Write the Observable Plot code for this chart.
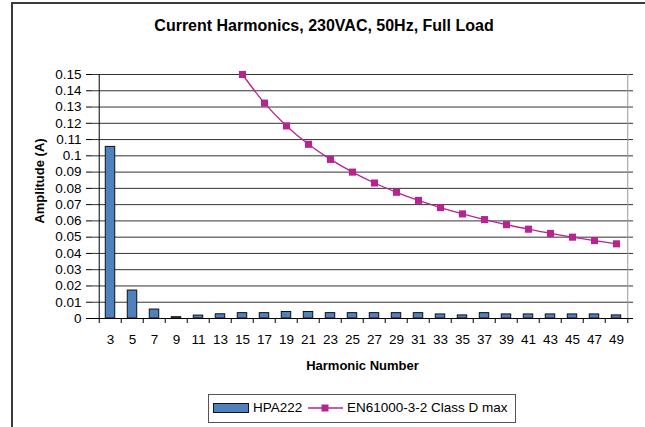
<!DOCTYPE html>
<html><head><meta charset="utf-8">
<script src="https://cdn.jsdelivr.net/npm/d3@7"></script>
<script src="https://cdn.jsdelivr.net/npm/@observablehq/plot@0.6"></script>
<style>
body{margin:0;background:#fff;font-family:"Liberation Sans",Arial,sans-serif;}
#wrap{position:relative;width:645px;height:427px;overflow:hidden;background:#fff;}
#border{position:absolute;left:11px;top:2px;width:700px;height:500px;border-left:2px solid #3a3a3a;border-top:2px solid #3a3a3a;}
#title{position:absolute;left:0;top:17px;width:648px;text-align:center;font-weight:bold;font-size:16px;}
#chart{position:absolute;left:0;top:0;}
#xlabel{position:absolute;left:92px;width:541px;top:358px;text-align:center;font-weight:bold;font-size:13px;}
#ylabel{position:absolute;left:39px;top:181px;transform:translate(-50%,-50%) rotate(-90deg);white-space:nowrap;font-weight:bold;font-size:13px;}
#legend{position:absolute;left:208px;top:394px;width:306px;height:27px;border:1px solid #555;font-size:13.5px;}
#legend span{position:absolute;top:5px;white-space:nowrap;}
</style></head>
<body>
<div id="wrap">
<div id="border"></div>
<div id="title">Current Harmonics, 230VAC, 50Hz, Full Load</div>
<div id="chart"></div>
<div id="xlabel">Harmonic Number</div>
<div id="ylabel">Amplitude (A)</div>
<div id="legend">
  <svg width="306" height="27" style="position:absolute;left:0;top:0">
    <rect x="4.5" y="8.5" width="35" height="9" fill="#4F81BD" stroke="#111"/>
    <line x1="99" x2="134" y1="13" y2="13" stroke="#B8248F" stroke-width="1.3"/>
    <rect x="112.5" y="9.5" width="7" height="7" fill="#B8248F"/>
  </svg>
  <span style="left:44px">HPA222</span>
  <span style="left:138px">EN61000-3-2 Class D max</span>
</div>
</div>
<script>
const harmonics = [3,5,7,9,11,13,15,17,19,21,23,25,27,29,31,33,35,37,39,41,43,45,47,49];
const hpa222 = [0.1055,0.0172,0.0055,0.0008,0.0018,0.0026,0.0033,0.0033,0.004,0.004,0.0033,0.0033,0.0033,0.0033,0.0033,0.0025,0.0019,0.0033,0.0025,0.0025,0.0025,0.0025,0.0025,0.0019];
const limitHarmonics = [15,17,19,21,23,25,27,29,31,33,35,37,39,41,43,45,47,49];
const classDmax = [0.15,0.1324,0.1184,0.1071,0.0978,0.09,0.0833,0.0776,0.0726,0.0682,0.0643,0.0608,0.0577,0.0549,0.0523,0.05,0.0479,0.0459];
const yTicks = [0,0.01,0.02,0.03,0.04,0.05,0.06,0.07,0.08,0.09,0.1,0.11,0.12,0.13,0.14,0.15];

const W=645,H=380,ML=92,MR=12,MT=74,MB=62;
const step=(W-ML-MR)/harmonics.length;
const barW=10;
const bars=harmonics.map((h,i)=>({h,v:hpa222[i]}));
const lim=limitHarmonics.map((h,i)=>({h,v:classDmax[i]}));
const pink="#B8248F";

const chart=Plot.plot({
  width:W,height:H,marginLeft:ML,marginRight:MR,marginTop:MT,marginBottom:MB,
  style:{fontFamily:'"Liberation Sans",Arial,sans-serif',fontSize:"13.5px",color:"#000",background:"transparent",overflow:"visible"},
  x:{type:"band",domain:harmonics,padding:0,label:null,axis:null},
  y:{domain:[0,0.15],label:null,axis:null},
  marks:[
    Plot.ruleY(yTicks.slice(1),{stroke:"#333",strokeWidth:1}),
    Plot.ruleX([harmonics[harmonics.length-1]],{dx:step/2,stroke:"#999",strokeWidth:1}),
    Plot.barY(bars,{x:"h",y:"v",fill:"#4F81BD",stroke:"#111",strokeWidth:1,insetLeft:(step-barW)/2,insetRight:(step-barW)/2}),
    Plot.line(lim,{x:"h",y:"v",stroke:pink,strokeWidth:1.3,curve:"catmull-rom"}),
    Plot.dot(lim,{x:"h",y:"v",symbol:"square",r:4,fill:pink,stroke:"none"}),
    Plot.ruleY([0],{stroke:"#000",strokeWidth:1}),
    Plot.ruleX([harmonics[0]],{dx:-step/2,stroke:"#000",strokeWidth:1}),
    Plot.axisY({ticks:yTicks,tickFormat:d=>String(+d.toFixed(2)),tickSize:6,tickPadding:5,stroke:"#000",label:null}),
    Plot.axisX({ticks:harmonics,tickSize:0,tickPadding:16,label:null}),
    Plot.axisX({ticks:harmonics,tickSize:5,tickFormat:null,dx:-step/2,stroke:"#000",label:null}),
    Plot.axisX({ticks:[harmonics[harmonics.length-1]],tickSize:5,tickFormat:null,dx:step/2,stroke:"#000",label:null})
  ]
});
document.getElementById("chart").appendChild(chart);
</script>
</body></html>
